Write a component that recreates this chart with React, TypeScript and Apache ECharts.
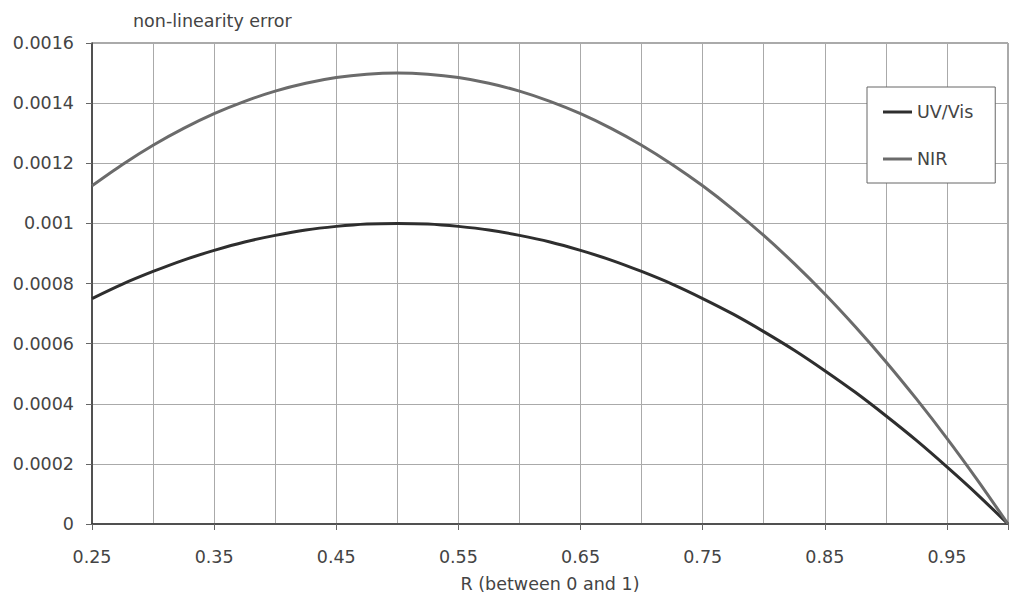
import React, { useEffect, useRef } from "react";
import * as echarts from "echarts";

const rValues = [
  0.25, 0.275, 0.3, 0.325, 0.35, 0.375, 0.4, 0.425, 0.45, 0.475, 0.5, 0.525, 0.55, 0.575, 0.6, 0.625,
  0.65, 0.675, 0.7, 0.725, 0.75, 0.775, 0.8, 0.825, 0.85, 0.875, 0.9, 0.925, 0.95, 0.975, 1.0,
];
const uvVis = [
  0.00075, 0.000798, 0.00084, 0.000878, 0.00091, 0.000938, 0.00096, 0.000978, 0.00099, 0.000998, 0.001,
  0.000998, 0.00099, 0.000978, 0.00096, 0.000938, 0.00091, 0.000878, 0.00084, 0.000798, 0.00075,
  0.000698, 0.00064, 0.000578, 0.00051, 0.000438, 0.00036, 0.000278, 0.00019, 0.000098, 0,
];
const nir = [
  0.001125, 0.001196, 0.00126, 0.001316, 0.001365, 0.001406, 0.00144, 0.001466, 0.001485, 0.001496, 0.0015,
  0.001496, 0.001485, 0.001466, 0.00144, 0.001406, 0.001365, 0.001316, 0.00126, 0.001196, 0.001125,
  0.001046, 0.00096, 0.000866, 0.000765, 0.000656, 0.00054, 0.000416, 0.000285, 0.000146, 0,
];
const seriesNames = ["UV/Vis", "NIR"];
const titleText = "non-linearity error";
const xAxisTitle = "R (between 0 and 1)";

const FONT = "DejaVu Sans";
const TEXT = "#444";

export default function App() {
  const ref = useRef<HTMLDivElement>(null);
  useEffect(() => {
    if (!ref.current) return;
    const chart = echarts.init(ref.current, undefined, { renderer: "svg" });
    chart.setOption({
      animation: false,
      backgroundColor: "#fff",
      textStyle: { fontFamily: FONT },
      title: {
        text: titleText,
        left: 133,
        top: 12,
        padding: 0,
        textStyle: { fontFamily: FONT, fontSize: 17.5, fontWeight: "normal", color: TEXT },
      },
      grid: {
        left: 92,
        top: 43,
        right: 1,
        bottom: 79,
        show: true,
        borderColor: "#555",
        borderWidth: 1,
        backgroundColor: "transparent",
      },
      legend: {
        orient: "vertical",
        left: 867,
        top: 87,
        padding: [15, 22, 14, 16],
        itemGap: 27,
        itemWidth: 29,
        itemHeight: 3,
        icon: "rect",
        backgroundColor: "#fff",
        borderColor: "#666",
        borderWidth: 1,
        borderRadius: 0,
        textStyle: { fontFamily: FONT, fontSize: 17.5, color: TEXT, lineHeight: 20 },
        data: seriesNames,
      },
      xAxis: [
        {
          type: "value",
          min: 0.25,
          max: 1.0,
          interval: 0.05,
          axisLine: { show: true, lineStyle: { color: "#333", width: 1.5 } },
          axisTick: { show: false },
          axisLabel: { show: false },
          splitLine: { show: true, lineStyle: { color: "#aaa", width: 1 } },
        },
        {
          type: "value",
          position: "bottom",
          min: 0.25,
          max: 1.0,
          interval: 0.1,
          name: xAxisTitle,
          nameLocation: "middle",
          nameGap: 51,
          nameTextStyle: { fontFamily: FONT, fontSize: 17.5, color: TEXT },
          axisLine: { show: false },
          axisTick: { show: true, length: 6, lineStyle: { color: "#666" } },
          axisLabel: {
            margin: 24,
            fontFamily: FONT,
            fontSize: 17.5,
            color: TEXT,
            formatter: (v: number) => (Math.abs(v - 1) < 1e-9 ? "" : v.toFixed(2)),
          },
          splitLine: { show: false },
        },
      ],
      yAxis: {
        type: "value",
        min: 0,
        max: 0.0016,
        interval: 0.0002,
        axisLine: { show: true, lineStyle: { color: "#333", width: 1.5 } },
        axisTick: { show: true, length: 6, lineStyle: { color: "#666" } },
        axisLabel: {
          margin: 18,
          fontFamily: FONT,
          fontSize: 17.5,
          color: TEXT,
          formatter: (v: number) => String(+v.toFixed(4)),
        },
        splitLine: { show: true, lineStyle: { color: "#aaa", width: 1 } },
      },
      series: [
        {
          name: seriesNames[0],
          type: "line",
          xAxisIndex: 0,
          smooth: 0.3,
          showSymbol: false,
          symbol: "none",
          data: rValues.map((r, i) => [r, uvVis[i]]),
          lineStyle: { color: "#2e2e2e", width: 3 },
          itemStyle: { color: "#2e2e2e" },
        },
        {
          name: seriesNames[1],
          type: "line",
          xAxisIndex: 0,
          smooth: 0.3,
          showSymbol: false,
          symbol: "none",
          data: rValues.map((r, i) => [r, nir[i]]),
          lineStyle: { color: "#6b6b6b", width: 3 },
          itemStyle: { color: "#6b6b6b" },
        },
      ],
    });
    return () => chart.dispose();
  }, []);
  return <div ref={ref} style={{ position: "fixed", left: 0, top: 0, width: 1011, height: 603 }} />;
}
